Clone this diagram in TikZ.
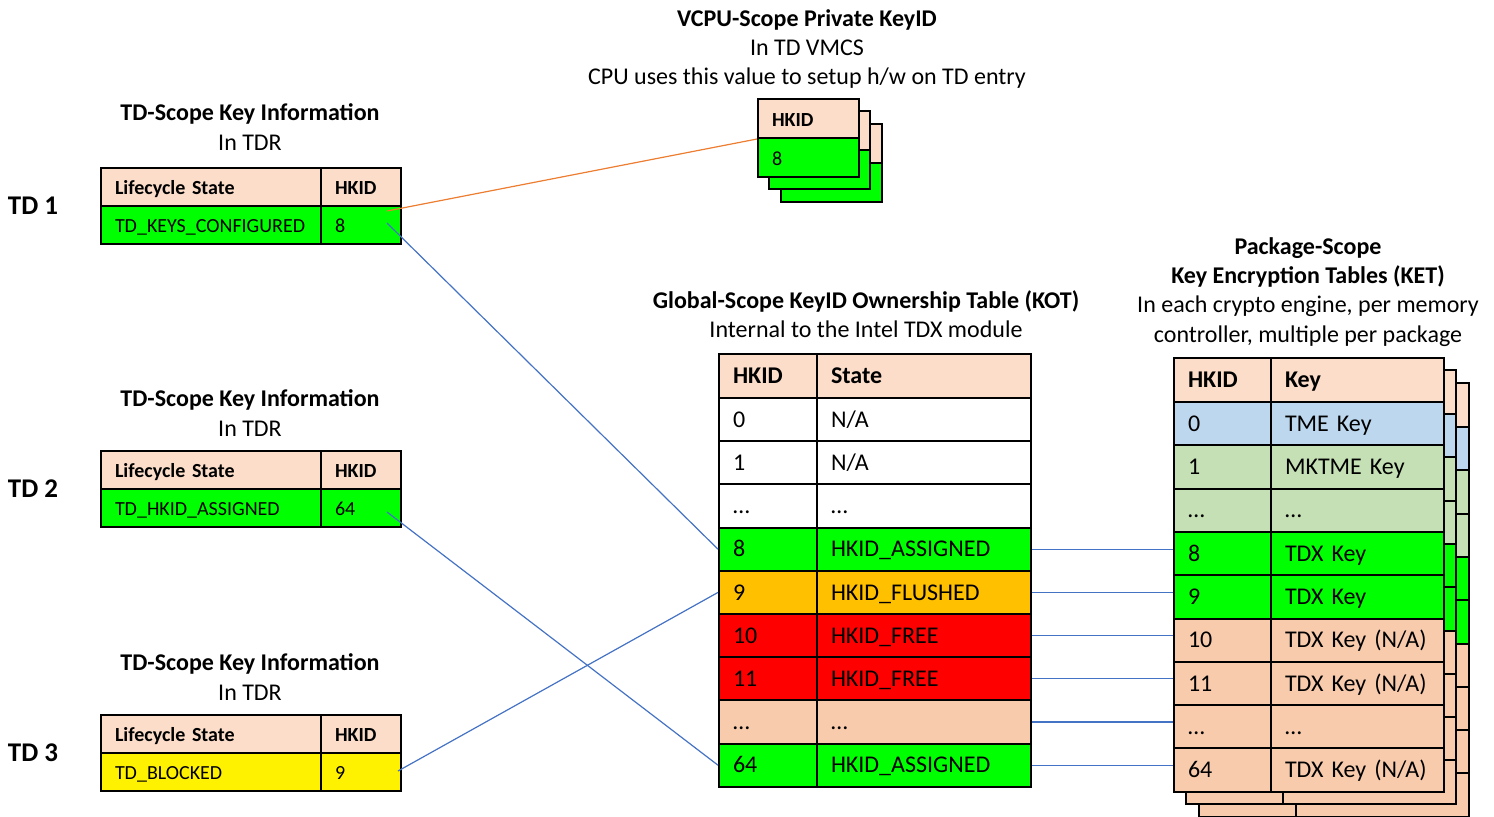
\documentclass[tikz,border=0pt]{standalone}
\usepackage{fontspec}
\setmainfont{Carlito}
\usetikzlibrary{positioning}

\definecolor{hdrpeach}{RGB}{252,221,201}
\definecolor{peach}{RGB}{248,203,173}
\definecolor{tmeblue}{RGB}{189,215,238}
\definecolor{mkgreen}{RGB}{197,224,180}
\definecolor{keygreen}{RGB}{0,255,0}
\definecolor{flushorange}{RGB}{255,192,0}
\definecolor{linkblue}{RGB}{68,114,196}
\definecolor{linkorange}{RGB}{237,125,49}

\begin{document}
\begin{tikzpicture}[x=0.5pt,y=-0.5pt,
  cell/.style={draw=black, line width=1pt, anchor=north west, inner xsep=7pt, inner ysep=0pt, align=left, text height=1.8ex, text depth=.2ex},
  small/.style={font=\fontsize{10}{12}\selectfont},
  big/.style={font=\fontsize{12}{14.6}\selectfont},
  tdstate/.style={cell, small, text width=96pt, minimum height=19pt},
  tdid/.style={cell, small, text width=26pt, minimum height=19pt},
  vcpucell/.style={cell, small, text width=36.5pt, minimum height=19.5pt},
  kotid/.style={cell, big, text width=35pt, minimum height=21.6pt},
  kotst/.style={cell, big, text width=93pt, minimum height=21.6pt},
  ketid/.style={cell, big, text width=34.5pt, minimum height=21.65pt},
  ketkey/.style={cell, big, text width=72.5pt, minimum height=21.65pt},
  hdr/.style={fill=hdrpeach, minimum height=22pt},
  layer/.style={draw=black, line width=1pt},
  title/.style={big, align=center},
  tdlabel/.style={font=\fontsize{13.5}{16}\selectfont\bfseries},
  link/.style={draw=linkblue, line width=0.6pt},
  hwlink/.style={draw=linkorange, line width=0.6pt}]
   \useasboundingbox (0,0) rectangle (1494,816);

   % TD side
   \node[title] (td1title) at (250,127) {\textbf{TD-Scope Key Information}\\In TDR};
   \node[tdlabel] (td1lbl) at (33,206) {TD 1};
   \node[tdstate, fill=hdrpeach] (td1sh) at (100,167) {\textbf{Lifecycle State}};
   \node[tdid, fill=hdrpeach] (td1ih) at (320,167) {\textbf{HKID}};
   \node[tdstate, fill=keygreen] (td1st) at (100,205) {TD\_KEYS\_CONFIGURED};
   \node[tdid, fill=keygreen] (td1id) at (320,205) {8};

   \node[title] (td2title) at (250,413) {\textbf{TD-Scope Key Information}\\In TDR};
   \node[tdlabel] (td2lbl) at (33,489) {TD 2};
   \node[tdstate, fill=hdrpeach] (td2sh) at (100,450) {\textbf{Lifecycle State}};
   \node[tdid, fill=hdrpeach] (td2ih) at (320,450) {\textbf{HKID}};
   \node[tdstate, fill=keygreen] (td2st) at (100,488) {TD\_HKID\_ASSIGNED};
   \node[tdid, fill=keygreen] (td2id) at (320,488) {64};

   \node[title] (td3title) at (250,677) {\textbf{TD-Scope Key Information}\\In TDR};
   \node[tdlabel] (td3lbl) at (33,753) {TD 3};
   \node[tdstate, fill=hdrpeach] (td3sh) at (100,714) {\textbf{Lifecycle State}};
   \node[tdid, fill=hdrpeach] (td3ih) at (320,714) {\textbf{HKID}};
   \node[tdstate, fill=yellow] (td3st) at (100,752) {TD\_BLOCKED};
   \node[tdid, fill=yellow] (td3id) at (320,752) {9};

   % VCPU
   \node[title] (vcputitle) at (807,49) {\textbf{VCPU-Scope Private KeyID}\\In TD VMCS\\CPU uses this value to setup h/w on TD entry};
   \foreach \dx/\dy in {24/26,12/13}{
     \draw[layer, fill=hdrpeach] (757+\dx,98+\dy) rectangle ++(101,39);
     \draw[layer, fill=keygreen] (757+\dx,137+\dy) rectangle ++(101,39);
   }
   \node[vcpucell, fill=hdrpeach] (vcpuid) at (757,98) {\textbf{HKID}};
   \node[vcpucell, fill=keygreen] (vcpukey) at (757,137) {8};

   % KOT
   \node[title] (kottitle) at (866,314) {\textbf{Global-Scope KeyID Ownership Table (KOT)}\\Internal to the Intel TDX module};
   \node[kotid, hdr] (kotid0) at (718,353) {\textbf{HKID}};
   \node[kotst, hdr] (kotst0) at (816,353) {\textbf{State}};
   \foreach \h/\s/\c [count=\r] in {0/{N/A}/white, 1/{N/A}/white, …/…/white,
       8/HKID\_ASSIGNED/keygreen, 9/HKID\_FLUSHED/flushorange, 10/HKID\_FREE/red,
       11/HKID\_FREE/red, …/…/peach, 64/HKID\_ASSIGNED/keygreen}{
     \node[kotid, fill=\c] (kotid\r) at (718,{397+43.2*(\r-1)}) {\h};
     \node[kotst, fill=\c] (kotst\r) at (816,{397+43.2*(\r-1)}) {\s};
   }

   % KET
   \node[title] (kettitle) at (1308,292) {\textbf{Package-Scope}\\\textbf{Key Encryption Tables (KET)}\\In each crypto engine, per memory\\controller, multiple per package};
   \foreach \d in {26,13}{
     \draw[layer, fill=hdrpeach] (1173+\d,357+\d) rectangle ++(97,44);
     \draw[layer, fill=hdrpeach] (1270+\d,357+\d) rectangle ++(173,44);
     \foreach \c [count=\r] in {tmeblue,mkgreen,mkgreen,keygreen,keygreen,peach,peach,peach,peach}{
       \draw[layer, fill=\c] (1173+\d,{401+43.3*(\r-1)+\d}) rectangle ++(97,43.3);
       \draw[layer, fill=\c] (1270+\d,{401+43.3*(\r-1)+\d}) rectangle ++(173,43.3);
     }
   }
   \node[ketid, hdr] (ketid0) at (1173,357) {\textbf{HKID}};
   \node[ketkey, hdr] (ketkey0) at (1270,357) {\textbf{Key}};
   \foreach \h/\k/\c [count=\r] in {0/TME Key/tmeblue, 1/MKTME Key/mkgreen, …/…/mkgreen,
       8/TDX Key/keygreen, 9/TDX Key/keygreen, 10/{TDX Key (N/A)}/peach,
       11/{TDX Key (N/A)}/peach, …/…/peach, 64/{TDX Key (N/A)}/peach}{
     \node[ketid, fill=\c] (ketid\r) at (1173,{401+43.3*(\r-1)}) {\h};
     \node[ketkey, fill=\c] (ketkey\r) at (1270,{401+43.3*(\r-1)}) {\k};
   }

   % connectors
   \coordinate (td1hw) at ([shift={(-15,6)}]td1id.north east);
   \coordinate (td1kot) at ([shift={(-15,18)}]td1id.north east);
   \coordinate (td2kot) at ([shift={(-15,24)}]td2id.north east);
   \coordinate (td3kot) at ([shift={(-4,19)}]td3id.north east);
   \draw[hwlink] (td1hw) -- (vcpuid.south west);
   \draw[link] (td1kot) -- (kotid4.west);
   \draw[link] (td2kot) -- (kotid9.west);
   \draw[link] (td3kot) -- (kotid5.west);
   \foreach \r in {4,...,9}
     \draw[link] (kotst\r.east) -- (kotst\r.east -| ketid\r.west);
\end{tikzpicture}
\end{document}
